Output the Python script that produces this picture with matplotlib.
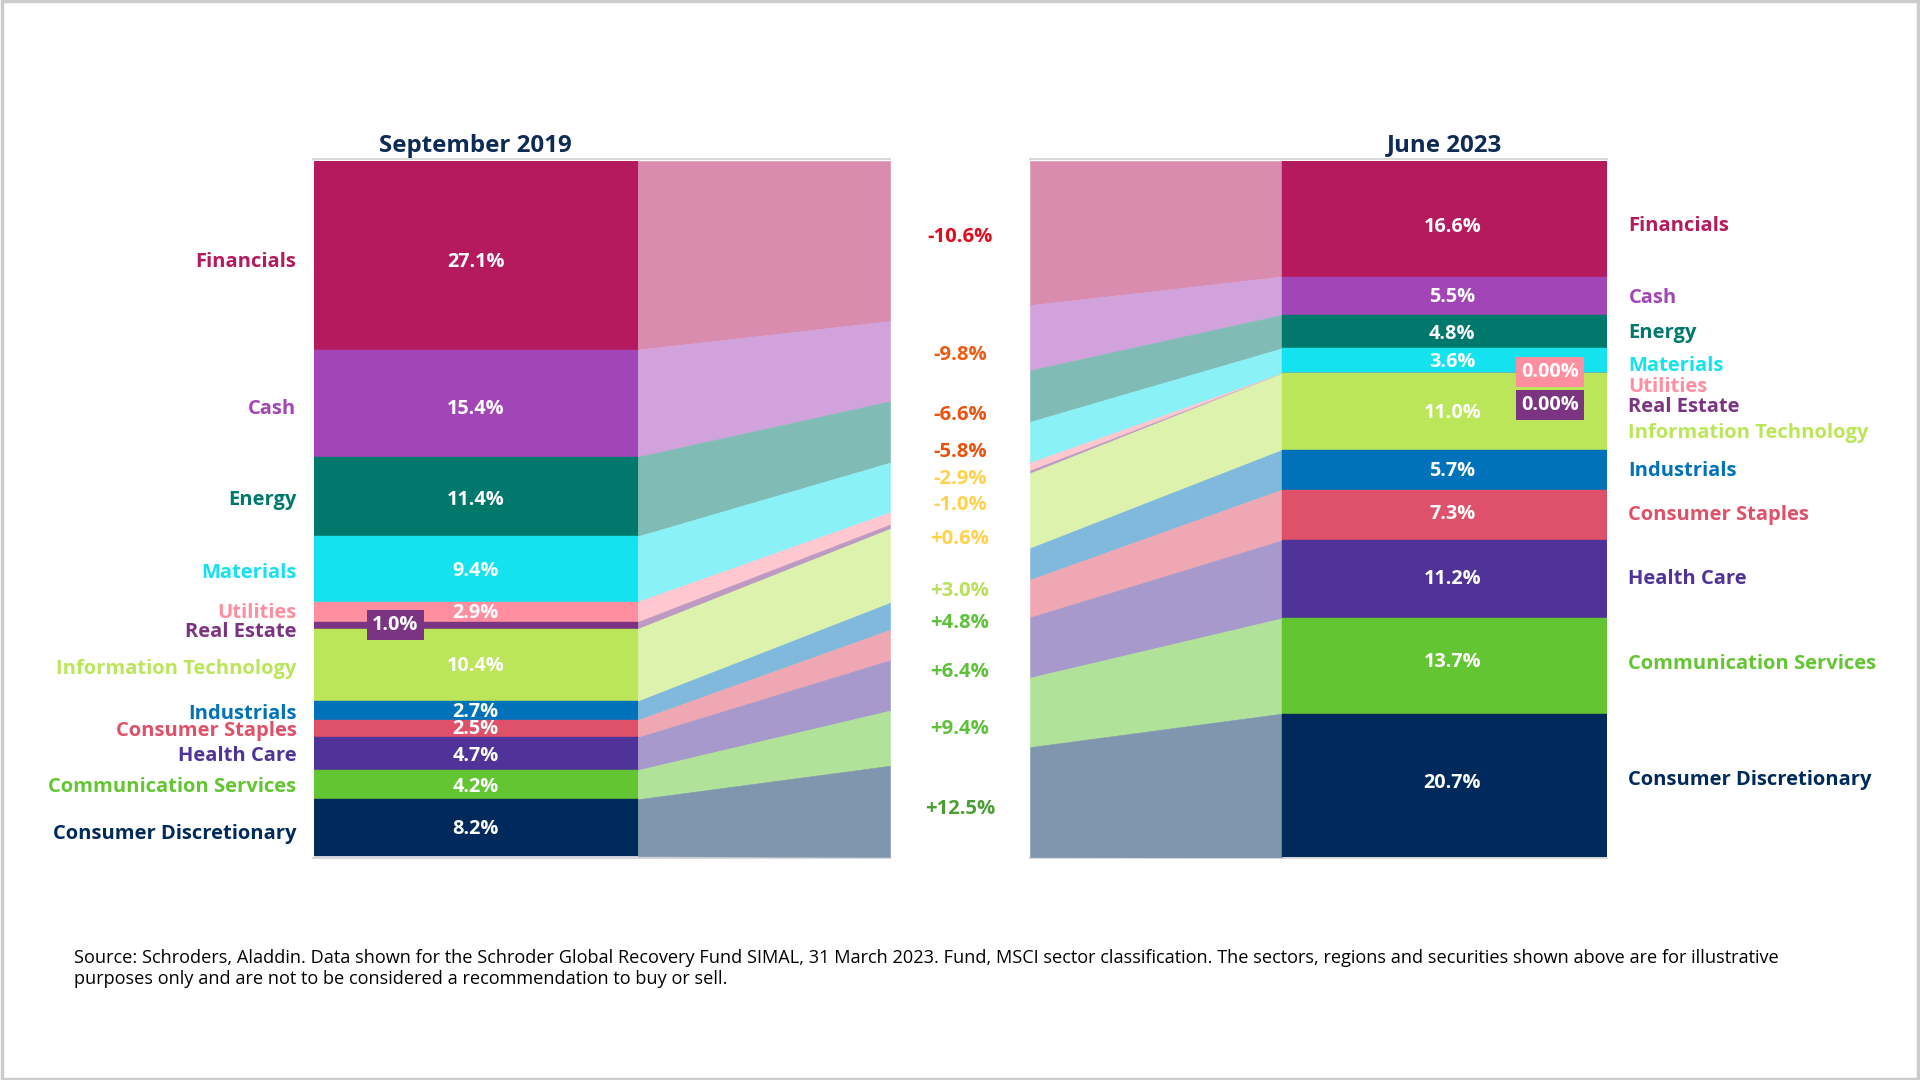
import matplotlib
matplotlib.use("Agg")
import matplotlib.pyplot as plt
import matplotlib.colors as mcolors
from matplotlib.patches import Rectangle
import numpy as np

plt.rcParams['font.family'] = ['Open Sans', 'DejaVu Sans']

# ---------------- data ----------------
sectors = ["Financials", "Cash", "Energy", "Materials", "Utilities", "Real Estate",
           "Information Technology", "Industrials", "Consumer Staples", "Health Care",
           "Communication Services", "Consumer Discretionary"]
sep2019 = [27.1, 15.4, 11.4, 9.4, 2.9, 1.0, 10.4, 2.7, 2.5, 4.7, 4.2, 8.2]
jun2023 = [16.6, 5.5, 4.8, 3.6, 0.0, 0.0, 11.0, 5.7, 7.3, 11.2, 13.7, 20.7]
sep_labels = ["27.1%", "15.4%", "11.4%", "9.4%", "2.9%", "1.0%", "10.4%", "2.7%",
              "2.5%", "4.7%", "4.2%", "8.2%"]
jun_labels = ["16.6%", "5.5%", "4.8%", "3.6%", "0.00%", "0.00%", "11.0%", "5.7%",
              "7.3%", "11.2%", "13.7%", "20.7%"]
change_labels = ["-10.6%", "-9.8%", "-6.6%", "-5.8%", "-2.9%", "-1.0%", "+0.6%",
                 "+3.0%", "+4.8%", "+6.4%", "+9.4%", "+12.5%"]
period_titles = ["September 2019", "June 2023"]
source_text = ("Source: Schroders, Aladdin. Data shown for the Schroder Global Recovery Fund SIMAL, "
               "31 March 2023. Fund, MSCI sector classification. The sectors, regions and securities "
               "shown above are for illustrative\npurposes only and are not to be considered a "
               "recommendation to buy or sell.")

# ---------------- styles ----------------
colors = ["#B5195E", "#A245B6", "#00786B", "#14E2EE", "#FF8FA0", "#7B3482",
          "#BBE65A", "#0072B9", "#DF5168", "#4F3399", "#63C532", "#002A5C"]
change_colors = ["#E30A1E", "#EE5A12", "#E85410", "#E85410", "#FFD24A", "#FFD24A",
                 "#FFD24A", "#B9E05A", "#5DC13A", "#5DC13A", "#5DC13A", "#4C9E34"]
navy = "#0D2B55"

def lighten(c, f=0.5):
    r = np.array(mcolors.to_rgb(c))
    return tuple(r * (1 - f) + np.ones(3) * f)

# layout in pixel-like x units (figure is 1920 px wide)
W, H = 1920, 1080
xL0, xL1 = 313.5, 638      # left bar
xG0, xG1 = 890, 1030       # gap
xR0, xR1 = 1282, 1606.5    # right bar
y_top_px, y_bot_px = 161, 857

fig = plt.figure(figsize=(19.2, 10.8), dpi=100)
fig.patch.set_facecolor("white")
ax = fig.add_axes([xL0 / W, 1 - y_bot_px / H, (xR1 - xL0) / W, (y_bot_px - y_top_px) / H])
ax.set_xlim(xL0, xR1)
ax.set_ylim(100, 0)
ax.axis("off")

sep = np.array(sep2019)
jun = np.array(jun2023)
sep_top = np.concatenate([[0], np.cumsum(sep)[:-1]])
jun_top = np.concatenate([[0], np.cumsum(jun)[:-1]])
sep_bot = sep_top + sep
jun_bot = jun_top + jun
sep_mid = sep_top + sep / 2
jun_mid = jun_top + jun / 2

# bars
ax.bar((xL0 + xL1) / 2, sep, bottom=sep_top, width=xL1 - xL0, color=colors,
       edgecolor=colors, linewidth=0.3, zorder=3)
ax.bar((xR0 + xR1) / 2, jun, bottom=jun_top, width=xR1 - xR0, color=colors,
       edgecolor=colors, linewidth=0.3, zorder=3)

# ribbons
def interp(yl, yr, x):
    return yl + (yr - yl) * (x - xL1) / (xR0 - xL1)

for i in range(len(sectors)):
    lc = lighten(colors[i])
    for xa, xb in [(xL1, xG0), (xG1, xR0)]:
        xs = np.array([xa, xb])
        ax.fill_between(xs, interp(sep_top[i], jun_top[i], xs), interp(sep_bot[i], jun_bot[i], xs),
                        color=lc, linewidth=0.4, edgecolor=lc, zorder=2)

# light gray frame lines of the two chart blocks
for xa, xb in [(xL0, xG0), (xG1, xR1)]:
    ax.plot([xa, xb], [-0.25, -0.25], color="#d9d9d9", lw=1.5, zorder=1, clip_on=False)
    ax.plot([xa, xb], [100.2, 100.2], color="#d9d9d9", lw=1.5, zorder=1, clip_on=False)

# offsets (style) for label placement, in % units
left_off = [0.9, 0.85, 0.55, 0.6, 0.2, 0.95, 0.6, 0.5, 0.4, 0.4, 0.35, 0.9]
right_off = [1.1, 0.35, 0.2, 0.8, 2.0, 4.8, 3.1, 0.2, 0.0, 0.0, -0.35, -0.8]
chg_off = [0, 0.8, 0.1, -1.8, -1.9, 0.8, 0.1, 0.1, 0.2, 0.8, 0.6, 0.4]
sep_val_off = [0.9, 0.85, 0.55, 0.35, 0.2, 0.0, 0.2, 0.2, 0.1, 0.3, 0.3, 0.2]
jun_val_off = [1.2, 0.2, 0.35, 0.2, 0, 0, 0.2, 0.2, -0.2, 0.0, -0.5, -0.35]

lab_fs = 14.5
for i, name in enumerate(sectors):
    ax.text(xL0 - 17, sep_mid[i] + left_off[i], name, ha="right", va="center",
            fontsize=lab_fs, fontweight="bold", color=colors[i], clip_on=False)
    ax.text(xR1 + 22, jun_mid[i] + right_off[i], name, ha="left", va="center",
            fontsize=lab_fs, fontweight="bold", color=colors[i], clip_on=False)
    # change labels in the gap
    ax.text((xG0 + xG1) / 2, (sep_mid[i] + jun_mid[i]) / 2 + chg_off[i], change_labels[i],
            ha="center", va="center", fontsize=14.6, fontweight="bold",
            color=change_colors[i], zorder=5)

# value labels inside bars
for i in range(len(sectors)):
    if sep[i] >= 2:
        ax.text((xL0 + xL1) / 2, sep_mid[i] + sep_val_off[i], sep_labels[i], ha="center",
                va="center", fontsize=14.3, fontweight="bold", color="white", zorder=5)
    else:
        ax.text(395.5, sep_mid[i] + sep_val_off[i], sep_labels[i], ha="center", va="center",
                fontsize=14.3, fontweight="bold", color="white", zorder=6,
                bbox=dict(boxstyle="square,pad=0.25", fc=colors[i], ec="none"))
for i in range(len(sectors)):
    if jun[i] >= 2:
        ax.text((xR0 + xR1) / 2 + 8, jun_mid[i] + jun_val_off[i], jun_labels[i], ha="center",
                va="center", fontsize=14.3, fontweight="bold", color="white", zorder=5)
# zero-weight boxes on right bar
zero_idx = [i for i in range(len(sectors)) if jun[i] == 0]
zero_y = [30.3, 35.0]
for k, i in enumerate(zero_idx):
    ax.text(1550, zero_y[k], jun_labels[i], ha="center", va="center",
            fontsize=14.3, fontweight="bold", color="white", zorder=6,
            bbox=dict(boxstyle="square,pad=0.25", fc=colors[i], ec="none"))

# titles
fig.text(((xL0 + xL1) / 2) / W, 1 - 145.5 / H, period_titles[0], ha="center", va="center",
         fontsize=17.4, fontweight="bold", color=navy)
fig.text(((xR0 + xR1) / 2) / W, 1 - 145.5 / H, period_titles[1], ha="center", va="center",
         fontsize=17.4, fontweight="bold", color=navy)

# source
fig.text(74.5 / W, 1 - 949 / H, source_text, ha="left", va="top", fontsize=13.1,
         color="black", linespacing=1.2)

# outer frame
fig.patches.append(Rectangle((0.001, 0.001), 0.998, 0.998, transform=fig.transFigure,
                             fill=False, edgecolor="#cccccc", linewidth=2.5))

fig.savefig("out.png", dpi=100, facecolor="white")
